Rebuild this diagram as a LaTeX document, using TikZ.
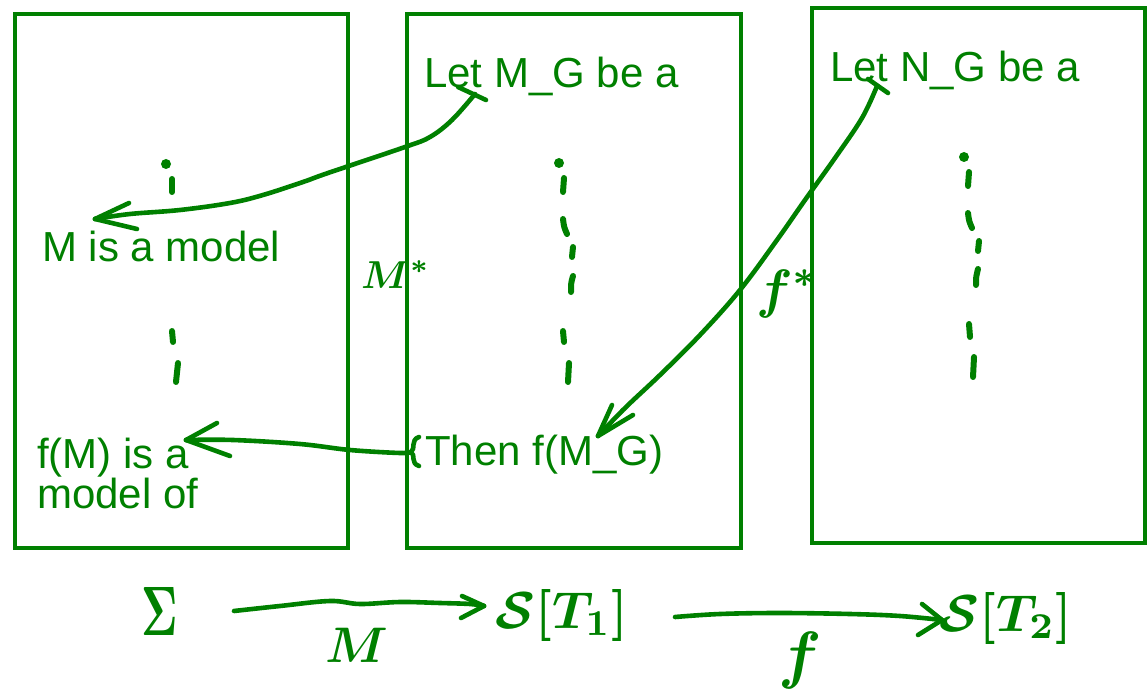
\documentclass[tikz,border=0pt]{standalone}
\usepackage{fontspec}
\setmainfont{Liberation Sans}
\definecolor{ink}{RGB}{0,128,0}
\begin{document}
\begin{tikzpicture}[x=1pt,y=-1pt,
  pen/.style={draw=ink, line width=4.6pt, line cap=round, line join=round},
  dash mark/.style={draw=ink, line width=6pt, line cap=round},
  box/.style={draw=ink, line width=4.6pt, inner sep=0pt, outer sep=0pt},
  txt/.style={text=ink, font=\fontsize{42}{50}\selectfont, inner sep=0pt, anchor=base west},
  sym/.style={text=ink, inner sep=0pt, font=\boldmath},
  dot/.style={fill=ink, draw=none}]
\useasboundingbox (0,0) rectangle (1147,700);
% boxes
\node[box, minimum width=333pt, minimum height=534pt] (b1) at (181.5,281) {};
\node[box, minimum width=334pt, minimum height=534pt] (b2) at (574,281) {};
\node[box, minimum width=333pt, minimum height=535pt] (b3) at (978.5,275.5) {};
% texts
\node[txt] (t1) at (424,88) {Let M\_G be a};
\node[txt] (t2) at (830,82) {Let N\_G be a};
\node[txt] (t3) at (42,262) {M is a model};
\node[txt] (t4) at (425,465) {Then f(M\_G)};
\node[txt] (t5) at (37,468) {f(M) is a};
\node[txt] (t6) at (37,508) {model of};
% vertical dots box 1
\fill[dot] (166,164) circle (5pt);
\draw[dash mark] (172,179) -- (172,192);
\draw[dash mark] (172,331) -- (173,342);
\draw[dash mark] (178,363) -- (176,382);
% box 2
\fill[dot] (559,163) circle (5pt);
\draw[dash mark] (564,178) -- (563,192);
\draw[dash mark] (563,219) .. controls (564,227) .. (567,234);
\draw[dash mark] (573,247) -- (572,257);
\draw[dash mark] (573,276) .. controls (571,283) .. (571,292);
\draw[dash mark] (563,331) -- (564,342);
\draw[dash mark] (569,363) -- (568,382);
% box 3
\fill[dot] (964,157) circle (5pt);
\draw[dash mark] (969,172) -- (968,186);
\draw[dash mark] (968,213) .. controls (969,221) .. (972,228);
\draw[dash mark] (979,241) -- (978,251);
\draw[dash mark] (978,269) .. controls (976,277) .. (976,285);
\draw[dash mark] (969,324) -- (970,337);
\draw[dash mark] (974,357) -- (973,377);
% arrow 1: Let M_G -> M is a model
\coordinate (s1) at (475,94);
\coordinate (e1) at (95,219);
\draw[pen] (458,87) -- (486,100);
\draw[pen] plot[smooth, tension=0.6] coordinates {(s1) (452,120) (430,137) (405,147) (328,173) (303,182) (263,195) (230,203) (180,210) (130,214) (e1)};
\draw[pen] (e1) -- (129,203);
\draw[pen] (e1) -- (137,229);
% arrow 2: Let N_G -> Then f(M_G)
\coordinate (s2) at (877,86);
\coordinate (e2) at (598,436);
\draw[pen] (868,79) -- (888,93);
\draw[pen] plot[smooth, tension=0.6] coordinates {(s2) (862,118) (835,158) (805,200) (777,240) (740,290) (700,335) (660,375) (625,408) (e2)};
\draw[pen] (e2) -- (612,405);
\draw[pen] (e2) -- (633,415);
% arrow 3: Then f(M_G) -> f(M) is a
\coordinate (s3) at (411,452);
\coordinate (e3) at (186,440);
\draw[pen] (419,437) .. controls (410,440) and (416,449) .. (s3) .. controls (416,455) and (410,463) .. (419,466);
\draw[pen] plot[smooth, tension=0.6] coordinates {(s3) (400,453) (350,450) (300,444) (233,440) (e3)};
\draw[pen] (e3) -- (217,423);
\draw[pen] (e3) -- (230,456);
% M* and f*
\node[sym, anchor=base west] (ms) at (361,288) {\scalebox{3.9}{$M^{*}$}};
\node[sym, anchor=base west] (fs) at (756,307) {\scalebox{5.4}{$f^{*}$}};
% bottom row
\node[sym] (sig) at (160,611) {\scalebox{4.4}[7]{$\Sigma$}};
\node[sym] (st1) at (562,615) {\scalebox{5.2}{$\mathcal{S}[T_1]$}};
\node[sym] (st2) at (1006,618) {\scalebox{5.2}{$\mathcal{S}[T_2]$}};
\coordinate (a4s) at (234,611);
\coordinate (a4e) at (484,606);
\draw[pen] plot[smooth, tension=0.6] coordinates {(a4s) (280,606) (330,601) (360,604) (400,602) (440,603) (470,604) (a4e)};
\draw[pen] (a4e) -- (462,596);
\draw[pen] (a4e) -- (461,618);
\node[sym] (lm) at (357,645) {\scalebox{5}{$M$}};
\coordinate (a5s) at (675,617);
\coordinate (a5e) at (942,620);
\draw[pen] plot[smooth, tension=0.6] coordinates {(a5s) (720,614) (780,613) (850,614) (900,616) (a5e)};
\draw[pen] (a5e) -- (922,604);
\draw[pen] (a5e) -- (918,635);
\node[sym] (lf) at (800,660) {\scalebox{6.4}{$f$}};
\end{tikzpicture}
\end{document}
